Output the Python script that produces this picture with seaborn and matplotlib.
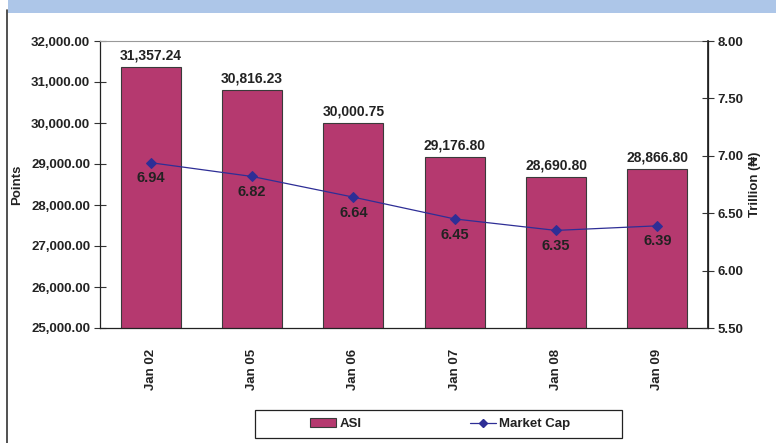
import matplotlib
matplotlib.use("Agg")
import matplotlib.pyplot as plt
import seaborn as sns
import numpy as np
from matplotlib.lines import Line2D
from matplotlib.patches import Patch, Rectangle

categories = ["Jan 02", "Jan 05", "Jan 06", "Jan 07", "Jan 08", "Jan 09"]
asi_values = [31357.24, 30816.23, 30000.75, 29176.80, 28690.80, 28866.80]
mcap_values = [6.94, 6.82, 6.64, 6.45, 6.35, 6.39]
left_ticks = [25000, 26000, 27000, 28000, 29000, 30000, 31000, 32000]
right_ticks = [5.5, 6.0, 6.5, 7.0, 7.5, 8.0]

sns.set_theme(style="white")
plt.rcParams['font.family'] = ['Liberation Sans', 'DejaVu Sans']
plt.rcParams['font.weight'] = 'bold'

bar_color = "#b5396f"
line_color = "#2e2e96"
text_color = "#222222"

fig = plt.figure(figsize=(7.76, 4.43), dpi=100)
ax = fig.add_axes([100/776, 1-328/443, 608/776, 287/443])

sns.barplot(x=categories, y=asi_values, color=bar_color, width=0.59,
            edgecolor="#3a3a3a", linewidth=0.8, saturation=1, ax=ax)
ax.set_ylim(25000, 32000)
ax.set_xlim(-0.5, len(categories) - 0.5)
ax.set_yticks(left_ticks)
ax.set_yticklabels([f"{v:,.2f}" for v in left_ticks], fontsize=9.5, fontweight='bold', color=text_color)
ax.set_ylabel("Points", fontsize=9.5, fontweight='bold', color=text_color, labelpad=6)
ax.set_xlabel("")

# x ticks at category boundaries, labels at centers
ax.set_xticks(np.arange(len(categories) + 1) - 0.5)
ax.set_xticklabels([])
ax.set_xticks(np.arange(len(categories)), minor=True)
ax.set_xticklabels(categories, minor=True, rotation=90, fontsize=9.5, fontweight='bold', color=text_color)
ax.tick_params(axis='x', which='major', direction='inout', length=8, width=0.8, color='#333333')
ax.tick_params(axis='x', which='minor', length=0, pad=15)
ax.tick_params(axis='y', direction='inout', length=8, width=0.8, color='#333333', pad=3)

for s in ['left', 'bottom']:
    ax.spines[s].set_color('#222222')
    ax.spines[s].set_linewidth(0.9)
ax.spines['top'].set_color('#999999')
ax.spines['top'].set_linewidth(0.8)
ax.spines['right'].set_color('#222222')

for i, v in enumerate(asi_values):
    ax.text(i, v + 110, f"{v:,.2f}", ha='center', va='bottom', fontsize=10,
            fontweight='bold', color=text_color)

ax2 = ax.twinx()
sns.lineplot(x=np.arange(len(categories)), y=mcap_values, color=line_color,
             marker='D', markersize=5, markeredgecolor=line_color, linewidth=0.9, ax=ax2)
ax2.set_ylim(5.5, 8.0)
ax2.set_yticks(right_ticks)
ax2.set_yticklabels([f"{v:.2f}" for v in right_ticks], fontsize=9.5, fontweight='bold', color=text_color)
ax2.set_ylabel("Trillion (\u20a6)", fontsize=9.5, fontweight='bold', color=text_color, labelpad=4)
ax2.tick_params(axis='y', direction='inout', length=8, width=0.8, color='#333333', pad=3)
ax2.spines['right'].set_color('#222222')
ax2.spines['right'].set_linewidth(0.9)
ax2.spines['top'].set_visible(False)
ax2.spines['left'].set_visible(False)
ax2.spines['bottom'].set_visible(False)

for i, v in enumerate(mcap_values):
    ax2.text(i, v - 0.075, f"{v:.2f}", ha='center', va='top', fontsize=10.5,
             fontweight='bold', color=text_color)

handles = [Patch(facecolor=bar_color, edgecolor='#3a3a3a', linewidth=0.8),
           Line2D([0], [0], color=line_color, marker='D', markersize=4, linewidth=0.9)]
leg = fig.legend(handles, ["ASI", "Market Cap"], loc='center', ncol=2,
                 bbox_to_anchor=(440/776, 1-424/443), frameon=False,
                 fontsize=9.5, columnspacing=8.2, handlelength=2.0,
                 borderpad=0.4, handletextpad=0.25, borderaxespad=0)
for t in leg.get_texts():
    t.set_fontweight('bold')
    t.set_color(text_color)
fig.add_artist(Rectangle((255/776, 1-438/443), 367/776, 28/443, transform=fig.transFigure,
                         facecolor='none', edgecolor='#222222', linewidth=0.9))

# top banner and left border line
fig.add_artist(Rectangle((8/776, 1-13/443), 768/776, 13/443, transform=fig.transFigure,
                         facecolor="#adc6e8", edgecolor='none'))
fig.add_artist(Line2D([6.5/776, 6.5/776], [0, 1-10/443], transform=fig.transFigure,
                      color='#333333', linewidth=1.2))

fig.savefig("out.png", dpi=100)
